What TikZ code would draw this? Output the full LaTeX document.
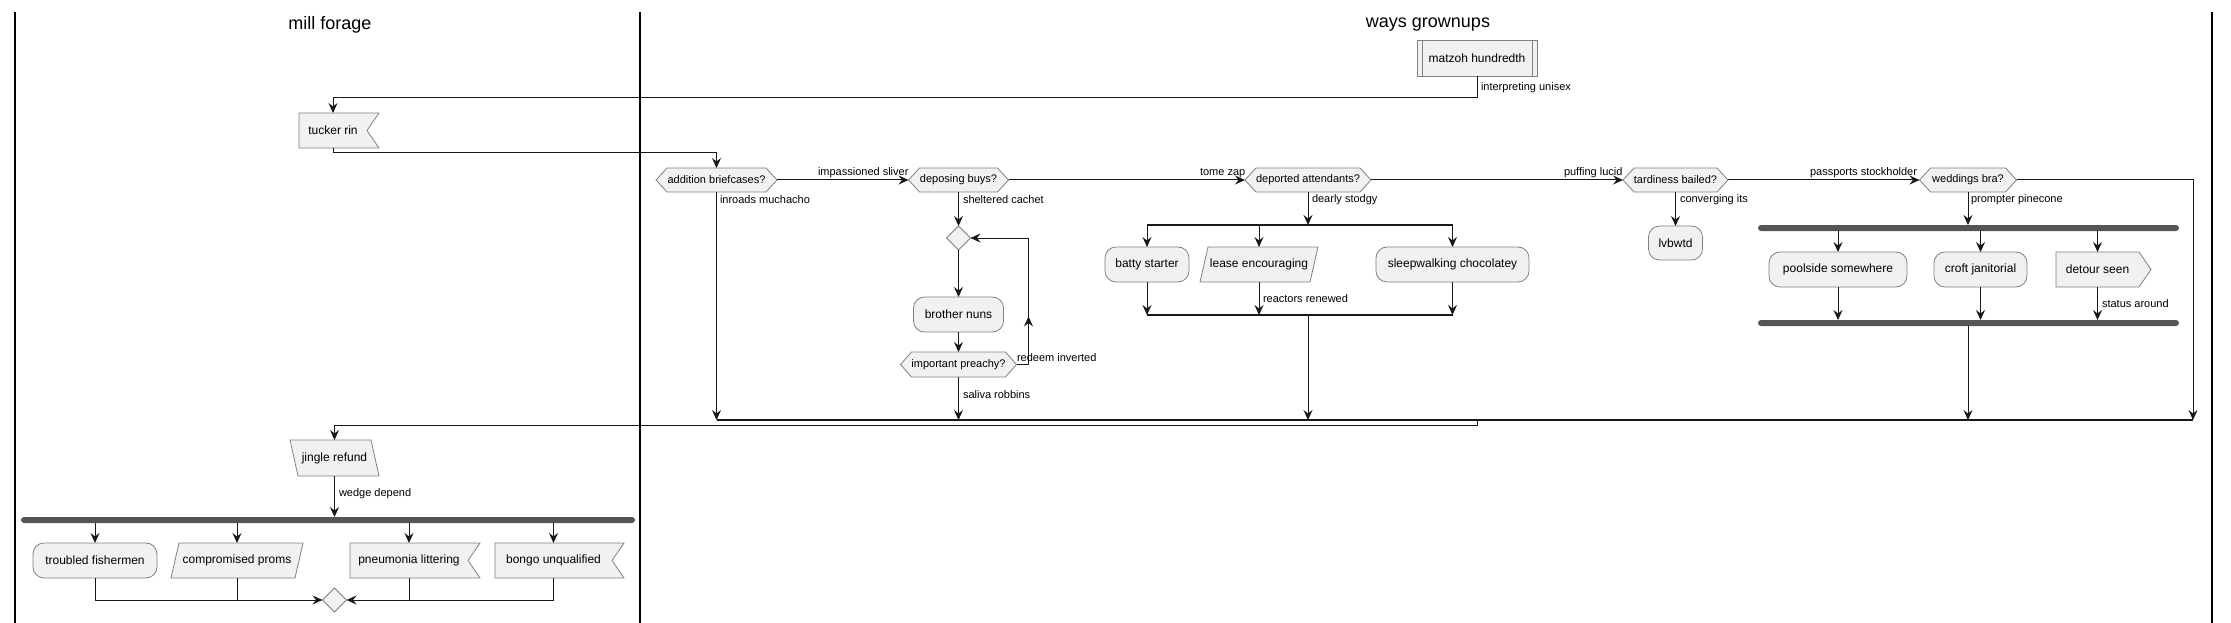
\documentclass[tikz,border=0pt]{standalone}
\usepackage{fontspec}
\setmainfont{Liberation Sans}
\usetikzlibrary{arrows.meta,shapes.geometric,backgrounds,decorations.markings}
\definecolor{boxfill}{HTML}{F1F1F1}
\definecolor{boxline}{HTML}{808080}
\definecolor{lineC}{HTML}{181818}
\definecolor{barC}{HTML}{555555}
\newcommand\hexshape[2]{\filldraw[shapeline] ([xshift=#2]#1.north west) -- ([xshift=-#2]#1.north east) -- (#1.east) -- ([xshift=-#2]#1.south east) -- ([xshift=#2]#1.south west) -- (#1.west) -- cycle;}
\newcommand\notchshape[1]{\filldraw[shapeline] (#1.north west) -- ([xshift=12pt]#1.north east) -- (#1.east) -- ([xshift=12pt]#1.south east) -- (#1.south west) -- cycle;}
\newcommand\sendshape[1]{\filldraw[shapeline] (#1.north west) -- (#1.north east) -- ([xshift=12pt]#1.east) -- (#1.south east) -- (#1.south west) -- cycle;}
\newcommand\slashshape[1]{\filldraw[shapeline] ([xshift=8pt]#1.north west) -- (#1.north east) -- ([xshift=-8pt]#1.south east) -- (#1.south west) -- cycle;}
\newcommand\bslashshape[1]{\filldraw[shapeline] (#1.north west) -- ([xshift=-8pt]#1.north east) -- (#1.south east) -- ([xshift=8pt]#1.south west) -- cycle;}
\begin{document}
\begin{tikzpicture}[x=1pt,y=-1pt,
  every node/.style={inner sep=0pt, outer sep=0pt},
  tip/.style={-{Stealth[length=10pt,width=9pt,inset=3.5pt]}},
  conn/.style={draw=lineC, line width=1pt, tip},
  plain/.style={draw=lineC, line width=1pt},
  mergeline/.style={draw=lineC, line width=1.5pt},
  act/.style={rectangle, rounded corners=11pt, draw=boxline, line width=0.8pt, fill=boxfill, minimum height=35pt, font=\fontsize{12}{14}\selectfont},
  plainbox/.style={rectangle, minimum height=35pt, font=\fontsize{12}{14}\selectfont},
  hexbox/.style={rectangle, minimum height=24pt, font=\fontsize{11}{13}\selectfont},
  shapeline/.style={draw=boxline, line width=0.8pt, fill=boxfill},
  lbl/.style={font=\fontsize{11}{13}\selectfont, anchor=west},
  bar/.style={rectangle, fill=barC, minimum height=6pt, rounded corners=3pt},
  mergediam/.style={diamond, draw=boxline, line width=0.8pt, fill=boxfill, minimum width=24pt, minimum height=24pt},
  lane/.style={draw=black, line width=1.5pt},
  title/.style={font=\fontsize{18}{21}\selectfont}
]
\useasboundingbox (0,0) rectangle (2231,623);
% swimlanes
\draw[lane] (15,12) -- (15,623);
\draw[lane] (640,12) -- (640,623);
\draw[lane] (2212,12) -- (2212,623);
\node[title] (t1) at (330,25) {mill forage};
\node[title] (t2) at (1428,25) {ways grownups};

% nodes
\node[plainbox, draw=boxline, line width=0.8pt, fill=boxfill, minimum width=120pt, minimum height=36pt] (mz) at (1477,58) {matzoh hundredth};
\draw[boxline, line width=0.8pt] ([xshift=5pt]mz.north west) -- ([xshift=5pt]mz.south west);
\draw[boxline, line width=0.8pt] ([xshift=-5pt]mz.north east) -- ([xshift=-5pt]mz.south east);
\node[plainbox, minimum width=68pt] (tr) at (333,130.5) {tucker rin};

\node[hexbox, minimum width=121pt] (ab) at (716.5,180) {addition briefcases?};
\node[hexbox, minimum width=100pt] (db) at (958.5,180) {deposing buys?};
\node[hexbox, minimum width=126pt] (da) at (1308,180) {deported attendants?};
\node[hexbox, minimum width=105pt] (tb) at (1675.5,180) {tardiness bailed?};
\node[hexbox, minimum width=97pt] (wb) at (1968,180) {weddings bra?};

\node[mergediam] (m1) at (958.5,238) {};
\node[act, minimum width=90pt] (bn) at (958.5,314.5) {brother nuns};
\node[hexbox, minimum width=116pt, minimum height=25pt] (ip) at (958.5,364.5) {important preachy?};

\node[act, minimum width=84pt] (bs) at (1147,264.5) {batty starter};
\node[plainbox, minimum width=118pt] (le) at (1259,264.5) {lease encouraging};
\node[act, minimum width=153pt] (sc) at (1452.5,264.5) {sleepwalking chocolatey};

\node[act, minimum width=54pt, minimum height=34pt] (lv) at (1675.5,243) {lvbwtd};

\node[bar, minimum width=421pt] (fb) at (1968.5,228) {};
\node[act, minimum width=138pt] (ps) at (1838,269.5) {poolside somewhere};
\node[act, minimum width=93pt] (cj) at (1980.5,269.5) {croft janitorial};
\node[plainbox, minimum width=83pt] (ds) at (2097.5,269.5) {detour seen};
\node[bar, minimum width=421pt] (jb) at (1968.5,323) {};

\node[plainbox, minimum width=89pt, minimum height=36pt] (jr) at (334.5,458) {jingle refund};
\node[bar, minimum width=614pt] (fb3) at (328,520) {};
\node[act, minimum width=124pt] (tf) at (95,560.5) {troubled fishermen};
\node[plainbox, minimum width=132pt] (cp) at (237,560.5) {compromised proms};
\node[plainbox, minimum width=118pt] (pl) at (409,560.5) {pneumonia littering};
\node[plainbox, minimum width=117pt] (bu) at (553.5,560.5) {bongo unqualified};
\node[mergediam] (m2) at (334.5,600) {};

% shapes behind text
\begin{scope}[on background layer]
\hexshape{ab}{11pt}
\hexshape{db}{11pt}
\hexshape{da}{11pt}
\hexshape{tb}{11pt}
\hexshape{wb}{11pt}
\hexshape{ip}{11pt}
\notchshape{tr}
\notchshape{pl}
\notchshape{bu}
\sendshape{ds}
\slashshape{le}
\slashshape{cp}
\bslashshape{jr}
\end{scope}

% helper coordinates
\coordinate (mR) at (2193,420);
\coordinate (s1) at (1308,225);
\coordinate (j1) at (1308,315);

% connectors
\draw[conn] (mz.south) -- ++(0,22) -| (tr.north);
\draw[conn] (tr.south) -- ++(0,5) -| (ab.north);
\draw[conn] (ab.east) -- (db.west);
\draw[conn] (db.east) -- (da.west);
\draw[conn] (da.east) -- (tb.west);
\draw[conn] (tb.east) -- (wb.west);
\draw[conn] (wb.east) -| (mR);
\draw[conn] (ab.south) -- (ab.south |- mR);

\draw[conn] (db.south) -- (m1.north);
\draw[conn] (m1.south) -- (bn.north);
\draw[conn] (bn.south) -- (ip.north);
\draw[conn, postaction={decorate}, decoration={markings, mark=at position 60pt with {\arrow{Stealth[length=10pt,width=9pt,inset=3.5pt]}}}] (ip.east) -- ++(12,0) |- (m1.east);
\draw[conn] (ip.south) -- (ip.south |- mR);

\draw[conn] (da.south) -- (s1);
\draw[mergeline] (bs.north |- s1) -- (sc.north |- s1);
\draw[conn] (bs.north |- s1) -- (bs.north);
\draw[conn] (le.north |- s1) -- (le.north);
\draw[conn] (sc.north |- s1) -- (sc.north);
\draw[conn] (bs.south) -- (bs.south |- j1);
\draw[conn] (le.south) -- (le.south |- j1);
\draw[conn] (sc.south) -- (sc.south |- j1);
\draw[mergeline] (bs.south |- j1) -- (sc.south |- j1);
\draw[conn] (j1) -- (j1 |- mR);

\draw[conn] (tb.south) -- (lv.north);

\draw[conn] (wb.south) -- (wb.south |- fb.north);
\draw[conn] (ps.north |- fb.south) -- (ps.north);
\draw[conn] (cj.north |- fb.south) -- (cj.north);
\draw[conn] (ds.north |- fb.south) -- (ds.north);
\draw[conn] (ps.south) -- (ps.south |- jb.north);
\draw[conn] (cj.south) -- (cj.south |- jb.north);
\draw[conn] (ds.south) -- (ds.south |- jb.north);
\draw[conn] (wb.south |- jb.south) -- (wb.south |- mR);

\draw[mergeline] (ab.south |- mR) -- (mR);
\draw[conn] (mz.south |- mR) -- ++(0,5) -| (jr.north);

\draw[conn] (jr.south) -- (jr.south |- fb3.north);
\draw[conn] (tf.north |- fb3.south) -- (tf.north);
\draw[conn] (cp.north |- fb3.south) -- (cp.north);
\draw[conn] (pl.north |- fb3.south) -- (pl.north);
\draw[conn] (bu.north |- fb3.south) -- (bu.north);
\draw[conn] (tf.south) |- (m2.west);
\draw[plain] (cp.south) -- (cp.south |- m2.west);
\draw[conn] (bu.south) |- (m2.east);
\draw[plain] (pl.south) -- (pl.south |- m2.east);

% labels
\node[lbl] (l1) at (1481,88) {interpreting unisex};
\node[lbl] (l2) at (818,173) {impassioned sliver};
\node[lbl] (l3) at (1200,173) {tome zap};
\node[lbl] (l4) at (1564,173) {puffing lucid};
\node[lbl] (l5) at (1810,173) {passports stockholder};
\node[lbl] (l6) at (720,200) {inroads muchacho};
\node[lbl] (l7) at (963,200) {sheltered cachet};
\node[lbl] (l8) at (1312,200) {dearly stodgy};
\node[lbl] (l9) at (1680,200) {converging its};
\node[lbl] (l10) at (1971,200) {prompter pinecone};
\node[lbl] (l11) at (1017,358) {redeem inverted};
\node[lbl] (l12) at (963,395) {saliva robbins};
\node[lbl] (l13) at (1263,299) {reactors renewed};
\node[lbl] (l14) at (2102,304) {status around};
\node[lbl] (l15) at (339,494) {wedge depend};
\end{tikzpicture}
\end{document}
